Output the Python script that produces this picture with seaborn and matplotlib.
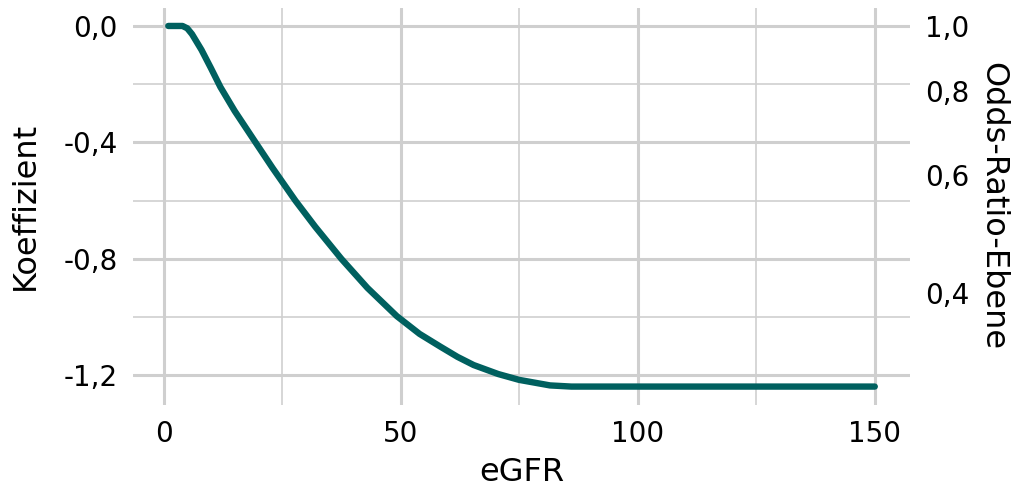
import numpy as np
import matplotlib
matplotlib.use("Agg")
import matplotlib.pyplot as plt
import seaborn as sns
from matplotlib.ticker import MultipleLocator, FixedLocator

# curve
egfr = [1, 4, 5, 6, 8, 10, 12, 15, 19.4, 23, 27.8, 32, 37.5, 43, 49.2, 54,
        58.4, 62, 65.4, 70.6, 75, 81.5, 86, 100, 125, 150]
koeff = [0.0, 0.0, -0.008, -0.028, -0.082, -0.145, -0.21, -0.292, -0.4, -0.488,
         -0.6, -0.69, -0.8, -0.9, -0.997, -1.058, -1.102, -1.137, -1.165, -1.196,
         -1.216, -1.235, -1.239, -1.239, -1.239, -1.239]

left_ticks = [0.0, -0.4, -0.8, -1.2]
or_ticks = [1.0, 0.8, 0.6, 0.4]

sns.set_theme(style="white")
plt.rcParams['font.family'] = ['DejaVu Sans']

fig, ax = plt.subplots(figsize=(10.18, 4.95), dpi=100)
fig.subplots_adjust(left=0.1306, right=0.894, top=0.984, bottom=0.182)

grid_col = "#CFCFCF"
sns.lineplot(x=egfr, y=koeff, ax=ax, color="#00605F", linewidth=4.6, zorder=3)

ax.set_xlim(-6.45, 157.45)
ax.set_ylim(-1.302, 0.062)
ax.xaxis.set_major_locator(MultipleLocator(50))
ax.xaxis.set_minor_locator(MultipleLocator(25))
ax.yaxis.set_major_locator(FixedLocator(left_ticks))
ax.yaxis.set_minor_locator(FixedLocator([-0.2, -0.6, -1.0]))
ax.grid(which="major", color=grid_col, linewidth=2.2)
ax.grid(which="minor", color=grid_col, linewidth=1.2)
ax.set_axisbelow(True)

ax.set_yticklabels([f"{v:.1f}".replace(".", ",") for v in left_ticks])
ax.tick_params(which="both", length=0, labelsize=20, colors="black", pad=11)
ax.tick_params(axis="x", pad=11)
for s in ax.spines.values():
    s.set_visible(False)
ax.set_xlabel("eGFR", fontsize=23, labelpad=6, color="black")
ax.set_ylabel("Koeffizient", fontsize=23, labelpad=16, color="black")

ax2 = ax.twinx()
ax2.set_ylim(ax.get_ylim())
ax2.set_yticks(np.log(or_ticks))
ax2.set_yticklabels([f"{v:.1f}".replace(".", ",") for v in or_ticks])
ax2.tick_params(length=0, labelsize=20, colors="black", pad=11)
ax2.grid(False)
for s in ax2.spines.values():
    s.set_visible(False)
ax2.set_ylabel("Odds-Ratio-Ebene", fontsize=23, rotation=-90, labelpad=28, color="black")

fig.savefig("out.png", dpi=100)
